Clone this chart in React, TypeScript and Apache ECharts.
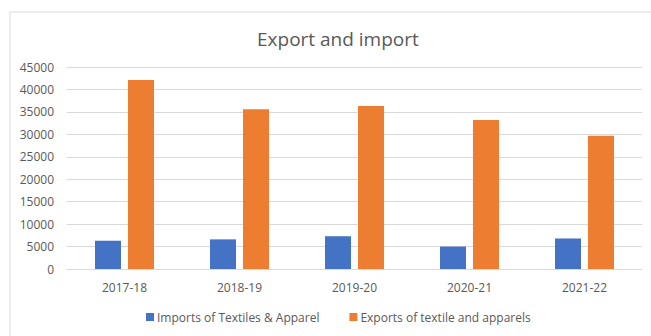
import React, { useEffect, useRef } from "react";
import * as echarts from "echarts";

const categories = ["2017-18", "2018-19", "2019-20", "2020-21", "2021-22"];
const importsData = [6300, 6600, 7300, 5000, 6800];
const exportsData = [42100, 35600, 36300, 33200, 29700];
const seriesNames = ["Imports of Textiles & Apparel", "Exports of textile and apparels"];
const titleText = "Export and import";

const FONT = "'Open Sans', 'Noto Sans', sans-serif";

export default function App() {
  const ref = useRef<HTMLDivElement>(null);
  useEffect(() => {
    document.body.style.margin = "0";
    const chart = echarts.init(ref.current!, null, { renderer: "svg" });
    chart.setOption({
      animation: false,
      backgroundColor: "#ffffff",
      textStyle: { fontFamily: FONT },
      title: {
        text: titleText,
        left: 252,
        top: 24,
        textStyle: { fontSize: 19, fontWeight: "normal", color: "#595959", fontFamily: FONT },
      },
      graphic: [
        {
          type: "rect",
          shape: { x: 10, y: 12, width: 700, height: 400 },
          style: { fill: "none", stroke: "#d9d9d9", lineWidth: 1 },
          silent: true,
        },
      ],
      legend: {
        bottom: 8,
        left: 141,
        itemWidth: 8,
        itemHeight: 8,
        itemGap: 30,
        icon: "rect",
        textStyle: { fontSize: 12, color: "#595959", fontFamily: FONT, padding: [0, 0, 0, -2] },
        data: seriesNames,
      },
      grid: { left: 67, right: 9, top: 67, bottom: 67 },
      xAxis: {
        type: "category",
        data: categories,
        axisLine: { lineStyle: { color: "#d9d9d9" } },
        axisTick: { show: false },
        axisLabel: { color: "#595959", fontSize: 12, margin: 12, fontFamily: FONT },
      },
      yAxis: {
        type: "value",
        min: 0,
        max: 45000,
        interval: 5000,
        axisLine: { show: false },
        axisTick: { show: false },
        splitLine: { lineStyle: { color: "#d9d9d9" } },
        axisLabel: {
          color: "#595959",
          fontSize: 12,
          margin: 13,
          fontFamily: FONT,
          formatter: (v: number) => String(v),
        },
      },
      series: [
        {
          name: seriesNames[0],
          type: "bar",
          data: importsData,
          barWidth: 26,
          barGap: "27%",
          itemStyle: { color: "#4472c4" },
        },
        {
          name: seriesNames[1],
          type: "bar",
          data: exportsData,
          barWidth: 26,
          itemStyle: { color: "#ed7d31" },
        },
      ],
    });
    return () => chart.dispose();
  }, []);
  return <div ref={ref} style={{ width: 651, height: 336 }} />;
}
